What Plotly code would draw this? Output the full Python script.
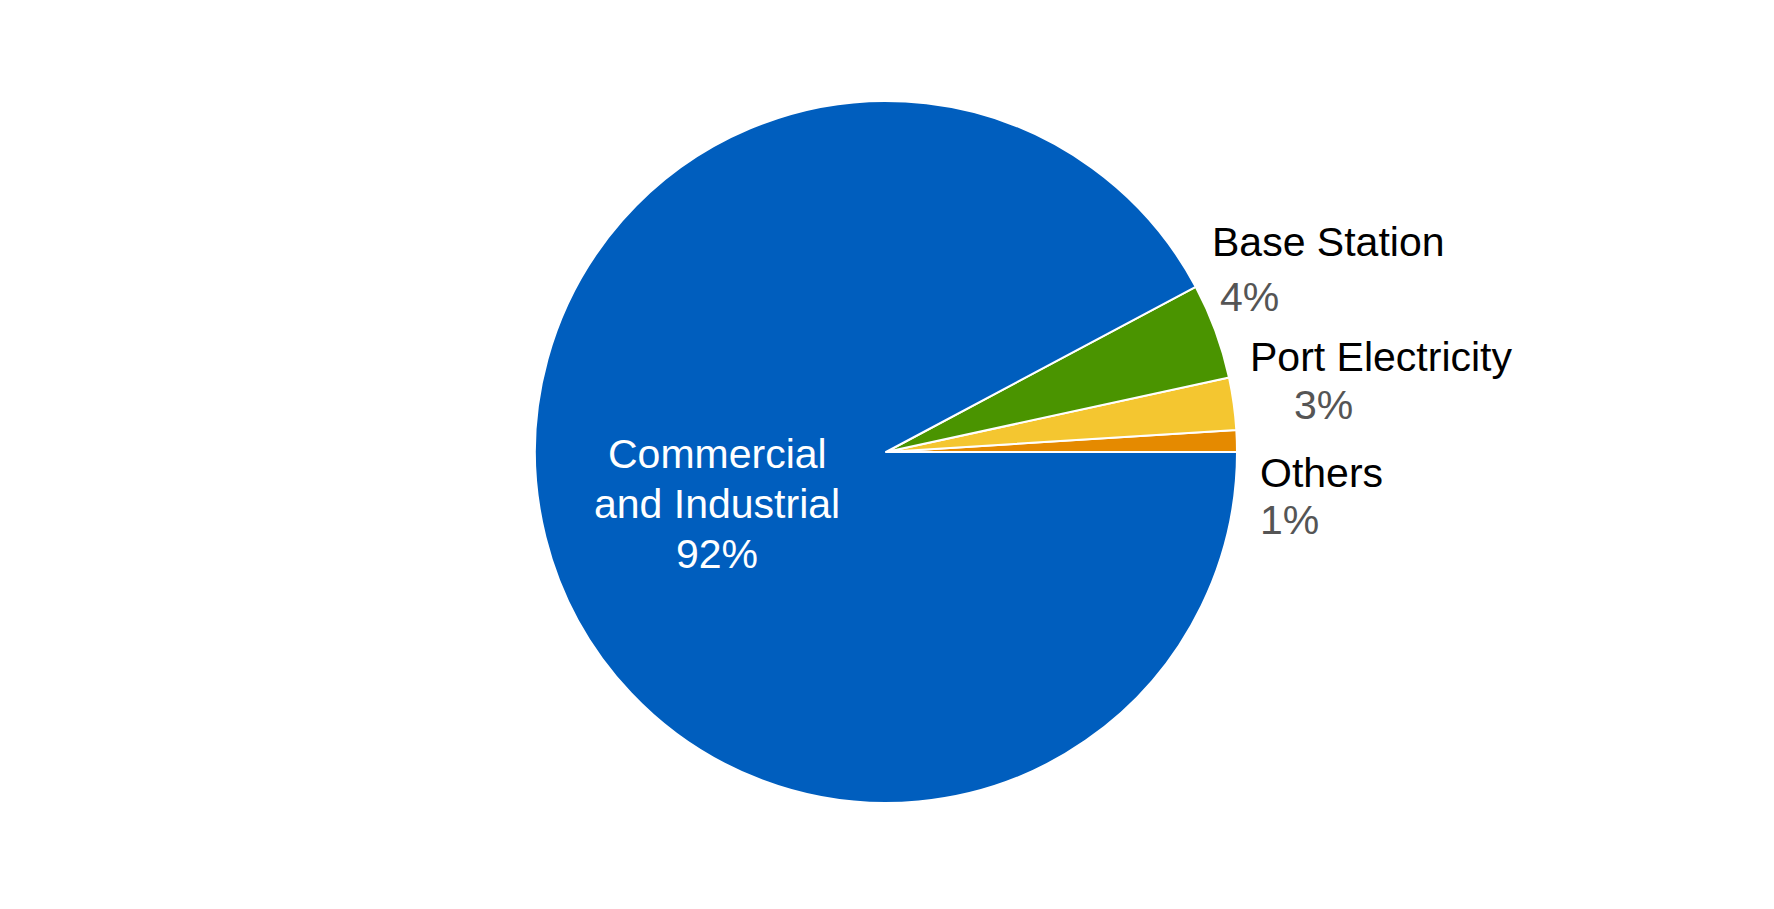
import plotly.graph_objects as go

# slice data, listed counter-clockwise from 3 o'clock
labels = ["Others", "Port Electricity", "Base Station", "Commercial and Industrial"]
values = [1.0, 2.4, 4.4, 92.2]
pct_text = ["1%", "3%", "4%", "92%"]
colors = ["#E58A00", "#F4C630", "#4A9400", "#005EBE"]

W, H = 1774, 909
OFF = 8  # default body margin of the html page

fig = go.Figure()

# first slice should start exactly at 3 o'clock
first_angle = values[0] / sum(values) * 360

fig.add_trace(
    go.Pie(
        labels=labels,
        values=values,
        sort=False,
        direction="counterclockwise",
        rotation=90 - first_angle,
        marker=dict(colors=colors, line=dict(color="white", width=2)),
        textinfo="none",
        hoverinfo="label+percent",
        showlegend=False,
        domain=dict(x=[(535 - OFF) / W, (1237 - OFF) / W],
                    y=[(106 + OFF) / H, (808 + OFF) / H]),
    )
)


def px_note(x, y, text, color, xanchor="left"):
    fig.add_annotation(
        x=(x - OFF) / W, y=1 - (y - OFF) / H, xref="paper", yref="paper",
        text=text, showarrow=False, xanchor=xanchor, yanchor="middle",
        font=dict(family="Liberation Sans, Arial", size=41, color=color),
        align="center",
    )


# outside labels
px_note(1210, 242, labels[2], "black")
px_note(1218, 297, pct_text[2], "#555555")
px_note(1248, 357, labels[1], "black")
px_note(1292, 405, pct_text[1], "#555555")
px_note(1258, 473, labels[0], "black")
px_note(1258, 520, pct_text[0], "#555555")

# inside label for the big slice, one line at a time
px_note(717, 454, "Commercial", "white", xanchor="center")
px_note(717, 504, "and Industrial", "white", xanchor="center")
px_note(717, 554, pct_text[3], "white", xanchor="center")

fig.update_layout(
    width=W, height=H,
    margin=dict(l=0, r=0, t=0, b=0),
    paper_bgcolor="white",
    plot_bgcolor="white",
)

fig.write_html("out.html")
